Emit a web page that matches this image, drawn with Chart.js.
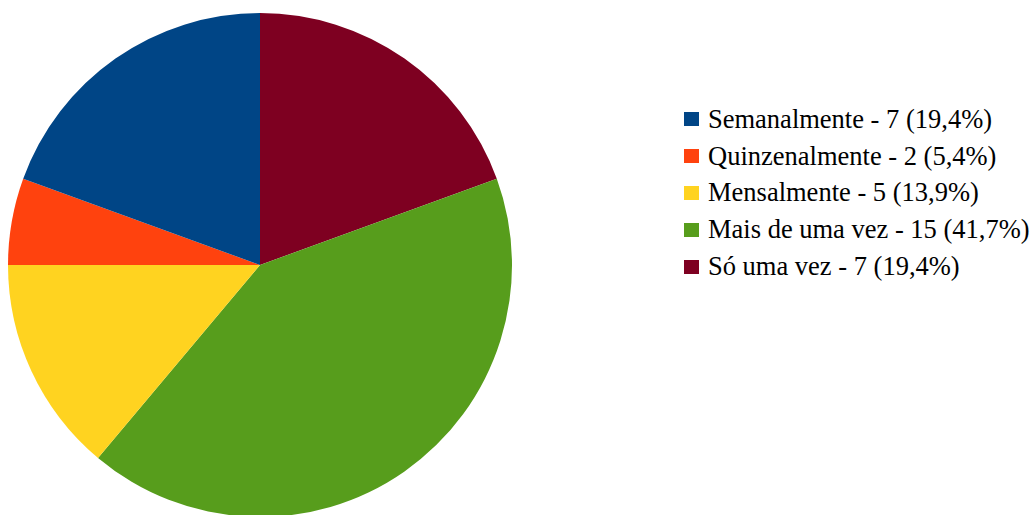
<!DOCTYPE html>
<html>
<head>
<meta charset="utf-8">
<script src="https://cdn.jsdelivr.net/npm/chart.js@4/dist/chart.umd.min.js"></script>
<style>
  html, body { margin: 0; padding: 0; background: #fff; overflow: hidden; width: 1032px; height: 515px; }
  #wrap { position: absolute; left: 8px; top: 13px; width: 504px; height: 504px; }
  #legend { position: absolute; left: 684px; top: 101px; font-family: "Liberation Serif", "Times New Roman", serif; font-size: 26.5px; color: #000; }
  #legend .item { height: 36.8px; display: flex; align-items: center; white-space: nowrap; }
  #legend .box { width: 15px; height: 14px; margin-right: 9px; flex: none; }
</style>
</head>
<body>
<div id="wrap"><canvas id="c" width="504" height="504"></canvas></div>
<div id="legend"></div>
<script>
const categories = ["Semanalmente", "Quinzenalmente", "Mensalmente", "Mais de uma vez", "Só uma vez"];
const counts = [7, 2, 5, 15, 7];
const percents = ["19,4%", "5,4%", "13,9%", "41,7%", "19,4%"];
const colors = ["#004586", "#ff420e", "#ffd320", "#579d1c", "#7e0021"];

// LibreOffice draws slices counter-clockwise from the top; Chart.js draws clockwise,
// so the dataset is fed in reverse order.
const order = categories.map((_, i) => i).reverse();

new Chart(document.getElementById("c"), {
  type: "pie",
  data: {
    labels: order.map(i => categories[i]),
    datasets: [{
      data: order.map(i => counts[i]),
      backgroundColor: order.map(i => colors[i]),
      borderWidth: 0
    }]
  },
  options: {
    responsive: false,
    animation: false,
    events: [],
    layout: { padding: 0 },
    plugins: { legend: { display: false }, tooltip: { enabled: false } }
  }
});

const legend = document.getElementById("legend");
categories.forEach((cat, i) => {
  const row = document.createElement("div");
  row.className = "item";
  const box = document.createElement("span");
  box.className = "box";
  box.style.background = colors[i];
  const txt = document.createElement("span");
  txt.textContent = cat + " - " + counts[i] + " (" + percents[i] + ")";
  row.appendChild(box);
  row.appendChild(txt);
  legend.appendChild(row);
});
</script>
</body>
</html>
